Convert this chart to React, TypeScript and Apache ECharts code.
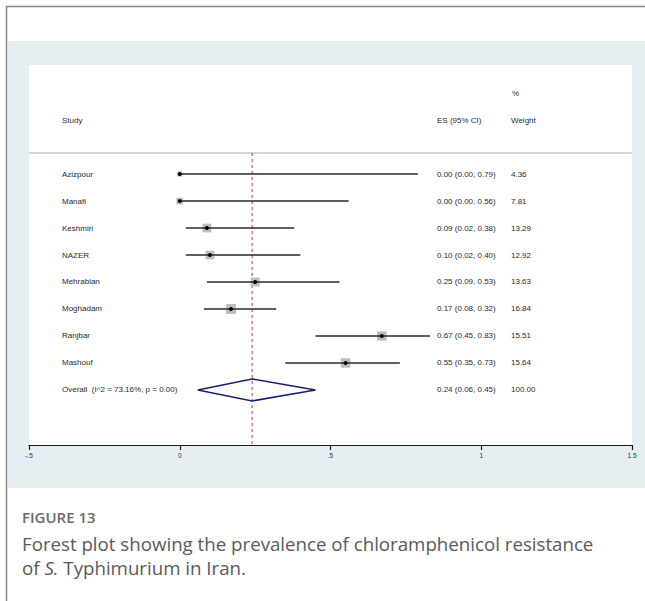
import React, { useEffect, useRef } from "react";
import * as echarts from "echarts";

const studies = ["Azizpour", "Manafi", "Keshmiri", "NAZER", "Mehrabian", "Moghadam", "Ranjbar", "Mashouf"];
const es = [0.0, 0.0, 0.09, 0.1, 0.25, 0.17, 0.67, 0.55];
const lo = [0.0, 0.0, 0.02, 0.02, 0.09, 0.08, 0.45, 0.35];
const hi = [0.79, 0.56, 0.38, 0.4, 0.53, 0.32, 0.83, 0.73];
const weights = [4.36, 7.81, 13.29, 12.92, 13.63, 16.84, 15.51, 15.64];

const overallLabel = "Overall  (I^2 = 73.16%, p = 0.00)";
const overallEs = 0.24;
const overallLo = 0.06;
const overallHi = 0.45;
const overallWeight = 100.0;

const xTicks = [-0.5, 0, 0.5, 1, 1.5];
const yMin = -0.78;
const yMax = 10.04;

const TABLE_FONT = "Liberation Sans, Arial, sans-serif";
const fmt = (v: number) => v.toFixed(2);
const tickLabel = (v: number) => {
  if (v === 0) return "0";
  const s = String(Math.abs(v)).replace(/^0/, "");
  return (v < 0 ? "-" : "") + s;
};

export default function App() {
  const ref = useRef<HTMLDivElement>(null);
  useEffect(() => {
    document.body.style.margin = "0";
    if (!ref.current) return;
    const chart = echarts.init(ref.current, undefined, { renderer: "svg" });
    const txt = (text: string, x: number, y: number, extra: any = {}) => ({
      type: "text",
      style: {
        text,
        x,
        y,
        fill: "#2a2a2a",
        fontSize: 8,
        fontFamily: TABLE_FONT,
        verticalAlign: "middle",
        ...extra,
      },
    });

    const option: any = {
      animation: false,
      grid: { left: 29, right: 13, top: 153, bottom: 156, containLabel: false },
      xAxis: {
        type: "value",
        min: -0.5,
        max: 1.5,
        interval: 0.5,
        splitLine: { show: false },
        axisLine: { show: true, onZero: false, lineStyle: { color: "#1a1a1a", width: 1.2 } },
        axisTick: { show: true, length: 5, lineStyle: { color: "#1a1a1a", width: 1.2 } },
        axisLabel: {
          formatter: (v: number) => (xTicks.includes(v) ? tickLabel(v) : ""),
          fontSize: 6.5,
          color: "#333",
          fontFamily: TABLE_FONT,
          margin: 7,
          showMinLabel: true,
          showMaxLabel: true,
        },
      },
      yAxis: { type: "value", min: yMin, max: yMax, inverse: true, show: false },
      graphic: [
        { type: "rect", z: -100, shape: { x: 8, y: 41, width: 637, height: 447 }, style: { fill: "#e6eef1" } },
        { type: "rect", z: -99, shape: { x: 29, y: 65, width: 603, height: 380 }, style: { fill: "#ffffff" } },
        { type: "line", z: -98, shape: { x1: 6.5, y1: 6, x2: 6.5, y2: 601 }, style: { stroke: "#888", lineWidth: 1.5 } },
        { type: "line", z: -98, shape: { x1: 6, y1: 6.5, x2: 645, y2: 6.5 }, style: { stroke: "#888", lineWidth: 1.5 } },
        { type: "line", z: -97, shape: { x1: 29, y1: 153, x2: 632, y2: 153 }, style: { stroke: "#d4d4d4", lineWidth: 2 } },
        txt("%", 512, 93),
        txt("Study", 62, 120),
        txt("ES (95% CI)", 437, 120),
        txt("Weight", 511, 120),
        {
          type: "text",
          style: { text: "FIGURE 13", x: 22, y: 517, fill: "#6b6b6b", fontSize: 15, fontWeight: 600, fontFamily: "Open Sans", verticalAlign: "middle" },
        },
        {
          type: "text",
          style: {
            text: "Forest plot showing the prevalence of chloramphenicol resistance",
            x: 22,
            y: 543,
            fill: "#5a5a5a",
            fontSize: 18.7,
            fontFamily: "Open Sans",
            verticalAlign: "middle",
          },
        },
        {
          type: "text",
          style: {
            text: "of {i|S.} Typhimurium in Iran.",
            x: 22,
            y: 567.5,
            fill: "#5a5a5a",
            fontSize: 18.7,
            fontFamily: "Open Sans",
            verticalAlign: "middle",
            rich: { i: { fontStyle: "italic", fontSize: 18.7, fontFamily: "Open Sans", fill: "#5a5a5a" } },
          },
        },
      ],
      series: [
        {
          type: "custom",
          coordinateSystem: "cartesian2d",
          clip: false,
          data: [[overallEs, yMin]],
          encode: { x: 0, y: 1 },
          renderItem: (params: any, api: any) => {
            const top = api.coord([api.value(0), yMin]);
            const bot = api.coord([api.value(0), yMax]);
            return {
              type: "line",
              shape: { x1: top[0], y1: top[1], x2: bot[0], y2: bot[1] },
              style: { stroke: "#a8404e", lineWidth: 1, lineDash: [3, 3] },
            };
          },
        },
        {
          type: "custom",
          coordinateSystem: "cartesian2d",
          clip: false,
          data: studies.map((_, i) => [es[i], i, lo[i], hi[i], weights[i]]),
          encode: { x: 0, y: 1 },
          renderItem: (params: any, api: any) => {
            const i = params.dataIndex;
            const c = api.coord([api.value(0), api.value(1)]);
            const l = api.coord([api.value(2), api.value(1)]);
            const h = api.coord([api.value(3), api.value(1)]);
            const side = 2.4 * Math.sqrt(api.value(4));
            return {
              type: "group",
              children: [
                { type: "rect", shape: { x: c[0] - side / 2, y: c[1] - side / 2, width: side, height: side }, style: { fill: "#bdbdbd" } },
                { type: "line", shape: { x1: l[0], y1: l[1], x2: h[0], y2: h[1] }, style: { stroke: "#2a2a2a", lineWidth: 1.5 } },
                { type: "circle", shape: { cx: c[0], cy: c[1], r: 2 }, style: { fill: "#000" } },
                txt(studies[i], 62, c[1]),
                txt(`${fmt(es[i])} (${fmt(lo[i])}, ${fmt(hi[i])})`, 437, c[1]),
                txt(fmt(weights[i]), 511, c[1]),
              ],
            };
          },
        },
        {
          type: "custom",
          coordinateSystem: "cartesian2d",
          clip: false,
          data: [[overallEs, studies.length, overallLo, overallHi, overallWeight]],
          encode: { x: 0, y: 1 },
          renderItem: (params: any, api: any) => {
            const c = api.coord([api.value(0), api.value(1)]);
            const l = api.coord([api.value(2), api.value(1)]);
            const h = api.coord([api.value(3), api.value(1)]);
            const hh = 11;
            return {
              type: "group",
              children: [
                {
                  type: "polygon",
                  shape: { points: [[l[0], l[1]], [c[0], c[1] - hh], [h[0], h[1]], [c[0], c[1] + hh]] },
                  style: { fill: "none", stroke: "#1c1f6e", lineWidth: 1.5 },
                },
                txt(overallLabel, 62, c[1]),
                txt(`${fmt(overallEs)} (${fmt(overallLo)}, ${fmt(overallHi)})`, 437, c[1]),
                txt(fmt(api.value(4)), 511, c[1]),
              ],
            };
          },
        },
      ],
    };
    chart.setOption(option);
    return () => chart.dispose();
  }, []);
  return <div ref={ref} style={{ width: 645, height: 601 }} />;
}
